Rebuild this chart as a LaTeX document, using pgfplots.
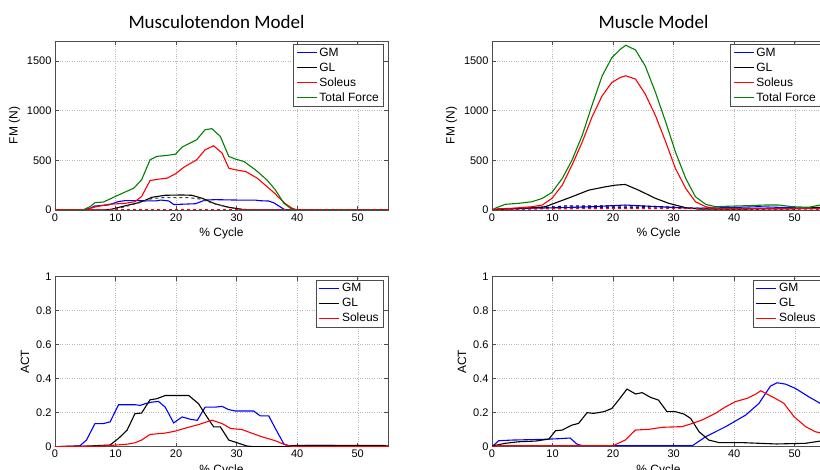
\documentclass[border=0pt]{standalone}
\usepackage{fontspec}
\setmainfont{Liberation Sans}
\newfontfamily\titlefont{Carlito}
\usepackage{pgfplots}
\pgfplotsset{compat=1.18}

\definecolor{mblue}{RGB}{0,0,255}
\definecolor{mgreen}{RGB}{0,128,0}
\definecolor{mred}{RGB}{255,0,0}

\pgfplotsset{
  mat/.style={
    scale only axis, width=333pt, anchor=south west,
    xmin=0, xmax=55, xtick={0,10,20,30,40,50},
    grid=major, grid style={dotted, black!28, line width=0.45pt},
    axis line style={black!70, line width=0.6pt},
    tick style={black!70, line width=0.6pt},
    major tick length=4pt, tick align=inside, tick pos=both,
    tick label style={font=\fontsize{11}{13}\selectfont},
    label style={font=\fontsize{12}{14}\selectfont},
    /pgf/number format/assume math mode=true,
    /pgf/number format/1000 sep={},
    xlabel={\% Cycle},
    legend cell align=left,
    legend image code/.code={\draw[##1] (0pt,0pt) -- (20pt,0pt);},
    legend style={at={(1,1)}, anchor=north east, xshift=-4pt, yshift=-3pt,
      draw=black!70, line width=0.6pt, fill=white, font=\fontsize{12}{14}\selectfont,
      inner xsep=3pt, inner ysep=1.5pt, row sep=1pt},
    every axis plot/.append style={line width=1.1pt},
  },
  fm/.style={mat, height=169pt, ymin=0, ymax=1700, ytick={0,500,1000,1500}, ylabel={FM (N)},
    title style={font=\titlefont\fontsize{19}{22}\selectfont, at={(0.5,1)}, anchor=base, yshift=6.5pt, xshift=-5pt}},
  act/.style={mat, height=170pt, ymin=0, ymax=1, ytick={0,0.2,0.4,0.6,0.8,1}, ylabel={ACT}},
}

\begin{document}
\begin{tikzpicture}
\useasboundingbox (0,0) rectangle (820pt,470pt);
\clip (0,0) rectangle (820pt,470pt);

% musculotendon, force
\begin{axis}[fm, at={(55pt,260pt)}, title={Musculotendon Model}]
  \addplot[draw=mblue] coordinates {(0,0)(4.5,0)(5.8,17)(6.6,40)(8.8,50)(10.5,85)(11.6,94)(13.2,94)(16.6,91)(17.5,100)(18.8,91)(19.6,55)(21,58)(23.2,63)(24.8,100)(26.5,104)(30,100)(33,100)(34,93)(35.3,90)(36.2,70)(37.5,20)(38,0)(55,0)};
  \addlegendentry{GM}
  \addplot[draw=black] coordinates {(0,0)(8.3,0)(9.5,10)(11,33)(12.5,55)(13.8,74)(15,100)(16,128)(18.2,148)(21,151)(22.6,148)(24.3,118)(26.5,61)(28.7,27)(30.9,7)(32.6,0)(55,0)};
  \addlegendentry{GL}
  \addplot[draw=mred] coordinates {(0,0)(5,0)(6.6,30)(8.8,57)(11.6,67)(13.2,84)(14.3,135)(15.7,296)(17.1,310)(18.5,320)(19.9,364)(21.3,431)(23.4,505)(24.8,606)(26.2,646)(27.6,572)(28.7,421)(29.8,404)(31.5,387)(33.4,320)(35,236)(36.4,162)(36.7,140)(38.1,61)(39.2,17)(40,0)(55,0)};
  \addlegendentry{Soleus}
  \addplot[draw=mgreen] coordinates {(0,0)(4.6,0)(5.8,34)(6.6,74)(8,80)(10.5,151)(13,219)(14.3,303)(15.7,505)(16.8,539)(18.5,549)(19.9,562)(21,633)(23.4,707)(24.8,808)(25.9,818)(27.3,741)(28.7,539)(29.8,512)(31.2,488)(33.1,404)(35,303)(36.4,202)(37.8,68)(38.9,17)(39.8,0)(55,0)};
  \addlegendentry{Total Force}
  \addplot[draw=black!75, dashed, forget plot] coordinates {(0,0)(9,0)(11,25)(13.8,70)(16,115)(18,125)(22,125)(24,110)(26.5,60)(28.7,25)(31,5)(33,0)(55,0)};
  \addplot[draw=mred, dashed, forget plot] coordinates {(0,2)(55,2)};
\end{axis}

% muscle, force
\begin{axis}[fm, at={(492pt,260pt)}, title={Muscle Model}]
  \addplot[draw=mblue] coordinates {(0,0)(1.5,12)(5.5,17)(11,23)(16.5,33)(22,50)(27.5,33)(33,17)(38.5,23)(44,33)(49.5,23)(55,15)};
  \addlegendentry{GM}
  \addplot[draw=black] coordinates {(0,0)(2,8)(5.5,17)(8.8,33)(11,83)(13.2,133)(16,200)(18.7,233)(20.4,250)(22,257)(24.2,200)(27,117)(29.2,67)(32,23)(34.2,10)(40,10)(50,12)(55,30)};
  \addlegendentry{GL}
  \addplot[draw=mred] coordinates {(0,0)(1,12)(3.3,17)(6.6,33)(8.3,50)(9.9,117)(11.6,250)(13.2,450)(14.9,683)(16.5,933)(18.2,1150)(19.8,1283)(21.2,1333)(22.1,1350)(23.7,1317)(25.3,1167)(27,950)(28.7,683)(30.3,417)(32,217)(33.6,83)(35.3,33)(36.9,17)(45,15)(55,15)};
  \addlegendentry{Soleus}
  \addplot[draw=mgreen] coordinates {(0,0)(0.8,25)(2.2,57)(4.4,67)(6.6,83)(8.3,117)(9.9,177)(11.6,317)(13.2,500)(14.9,750)(16.5,1050)(18.2,1350)(19.8,1533)(21.2,1617)(22.1,1657)(23.7,1610)(25.3,1450)(27,1183)(28.7,883)(30.3,583)(32,317)(33.6,133)(35.3,57)(36.9,33)(38.6,37)(41.9,43)(45.2,50)(47.4,50)(49.6,33)(52.3,27)(54.2,50)(55,52)};
  \addlegendentry{Total Force}
  \addplot[draw=black, dashed, forget plot] coordinates {(0,0)(5,10)(9,25)(12,40)(20,40)(25,38)(30,30)(34,12)(40,8)(55,15)};
  \addplot[draw=mblue, dashed, forget plot] coordinates {(0,5)(10,20)(20,25)(30,20)(40,15)(55,10)};
  \addplot[draw=mred, dashed, forget plot] coordinates {(0,5)(10,12)(20,15)(30,15)(40,12)(55,12)};
\end{axis}

% musculotendon, activation
\begin{axis}[act, at={(55pt,23.3pt)}]
  \addplot[draw=mblue] coordinates {(0,0)(4.1,0.005)(5.2,0.039)(6.6,0.136)(8,0.136)(9.1,0.146)(10.5,0.247)(13.2,0.247)(14.1,0.243)(14.9,0.253)(16,0.262)(17.1,0.266)(18.2,0.233)(19.6,0.14)(21,0.175)(22.4,0.161)(23.5,0.155)(24.8,0.233)(26.5,0.233)(27.6,0.237)(28.7,0.218)(29.8,0.21)(32.8,0.21)(33.9,0.181)(35.3,0.181)(36.4,0.107)(37.8,0.016)(38.6,0.006)(46,0.008)(47,0)(55,0)};
  \addlegendentry{GM}
  \addplot[draw=black] coordinates {(0,0)(5.5,0.004)(9.1,0.01)(10.5,0.049)(11.9,0.097)(13.2,0.194)(14.3,0.198)(15.7,0.276)(16.8,0.282)(18.2,0.301)(22.1,0.301)(23.7,0.253)(25.1,0.175)(26.2,0.117)(27.3,0.117)(28.7,0.039)(30.1,0.023)(31.7,0.004)(32.8,0)(38,0)(40,0.008)(54,0.008)(55,0.004)};
  \addlegendentry{GL}
  \addplot[draw=mred] coordinates {(0,0)(8,0.004)(12,0.015)(13.2,0.023)(14.3,0.039)(15.7,0.072)(18.2,0.08)(19.9,0.092)(22.1,0.115)(23.7,0.13)(25.9,0.156)(27.6,0.136)(29,0.107)(30.9,0.101)(32.6,0.078)(34.2,0.058)(36.4,0.035)(38.1,0.01)(39.2,0.002)(55,0.002)};
  \addlegendentry{Soleus}
\end{axis}

% muscle, activation
\begin{axis}[act, at={(492pt,23.3pt)}]
  \addplot[draw=mblue] coordinates {(0,0)(1.1,0.035)(3.3,0.039)(8.3,0.043)(11,0.047)(12.9,0.051)(14,0.016)(14.9,0.006)(33.1,0.006)(35.3,0.059)(38.6,0.118)(41.9,0.186)(44.1,0.255)(45.2,0.314)(46,0.357)(47.1,0.376)(48.5,0.368)(50.1,0.343)(52.3,0.294)(54.2,0.255)(55,0.245)};
  \addlegendentry{GM}
  \addplot[draw=black] coordinates {(0,0.004)(2.2,0.02)(4.4,0.029)(7.2,0.033)(9.4,0.045)(10.5,0.094)(11.6,0.098)(13.2,0.127)(14.3,0.137)(15.7,0.2)(16.8,0.196)(18.5,0.206)(19.8,0.225)(20.9,0.274)(22.3,0.339)(23.7,0.31)(24.8,0.318)(26.2,0.29)(27.5,0.274)(28.9,0.206)(30.3,0.206)(31.7,0.192)(32.8,0.167)(34.2,0.088)(35.8,0.039)(37.5,0.024)(41.3,0.024)(44.1,0.02)(47,0.016)(51.8,0.02)(54.2,0.033)(55,0.035)};
  \addlegendentry{GL}
  \addplot[draw=mred] coordinates {(0,0)(1,0.006)(20,0.006)(22,0.039)(23.7,0.098)(25.9,0.102)(28.1,0.114)(31.4,0.118)(33.1,0.137)(34.7,0.157)(36.9,0.196)(38.6,0.235)(40.2,0.265)(42.1,0.284)(43.5,0.308)(44.4,0.329)(45.7,0.304)(46.8,0.284)(48.2,0.255)(49.9,0.176)(51.8,0.118)(53.4,0.088)(55,0.075)};
  \addlegendentry{Soleus}
\end{axis}
\end{tikzpicture}
\end{document}
